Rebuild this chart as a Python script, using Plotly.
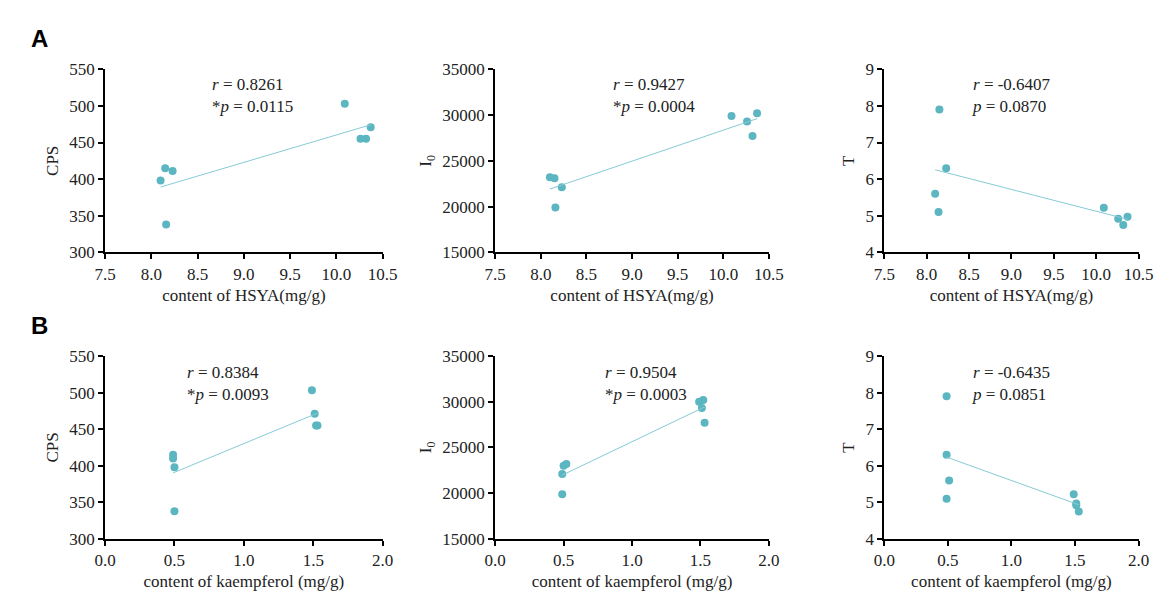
import numpy as np
import plotly.graph_objects as go

hsya = [8.10, 8.15, 8.23, 8.16, 10.09, 10.26, 10.32, 10.37]
cps_a = [398, 415, 411, 338, 503, 455, 455, 471]
i0_a = [23200, 23100, 22100, 19900, 29900, 29300, 27700, 30200]
t_hsya = [8.10, 8.15, 8.23, 8.14, 10.09, 10.26, 10.32, 10.37]
t_a = [5.6, 7.9, 6.3, 5.1, 5.22, 4.92, 4.75, 4.97]

kae = [0.49, 0.49, 0.50, 0.50, 1.49, 1.51, 1.52, 1.53]
cps_b = [415, 410, 398, 338, 503, 471, 455, 455]
kae_i0 = [0.50, 0.52, 0.49, 0.49, 1.49, 1.52, 1.51, 1.53]
i0_b = [23000, 23200, 22100, 19900, 30000, 30200, 29300, 27700]
kae_t = [0.49, 0.49, 0.51, 0.49, 1.49, 1.51, 1.51, 1.53]
t_b = [7.9, 6.3, 5.6, 5.1, 5.22, 4.97, 4.92, 4.75]

stats = [("0.8261", "*", "0.0115"), ("0.9427", "*", "0.0004"), ("-0.6407", "", "0.0870"),
         ("0.8384", "*", "0.0093"), ("0.9504", "*", "0.0003"), ("-0.6435", "", "0.0851")]

panels = [
    (hsya, cps_a, "CPS", [300, 550], 50, [7.5, 10.5], "content of HSYA(mg/g)"),
    (hsya, i0_a, "I<sub>0</sub>", [15000, 35000], 5000, [7.5, 10.5], "content of HSYA(mg/g)"),
    (t_hsya, t_a, "T", [4, 9], 1, [7.5, 10.5], "content of HSYA(mg/g)"),
    (kae, cps_b, "CPS", [300, 550], 50, [0, 2], "content of kaempferol (mg/g)"),
    (kae_i0, i0_b, "I<sub>0</sub>", [15000, 35000], 5000, [0, 2], "content of kaempferol (mg/g)"),
    (kae_t, t_b, "T", [4, 9], 1, [0, 2], "content of kaempferol (mg/g)"),
]
W, H = 1169, 602
xd = [(88, 372), (487, 767), (885, 1145)]
yd = [(54, 243), (350, 539)]
ann_pos = [(195, 58), (605, 58), (973, 58), (170, 355), (597, 355), (973, 355)]

fig = go.Figure()
font = dict(family="'Liberation Serif', 'Times New Roman', 'DejaVu Serif', serif", size=17, color="#222")
annotations = []
for i, (x, y, yl, yr, dt, xr, xl) in enumerate(panels):
    r, c = divmod(i, 3)
    n = "" if i == 0 else str(i + 1)
    fig.add_trace(go.Scatter(x=x, y=y, mode="markers", marker=dict(color="#5cb6c1", size=8),
                             xaxis="x" + n, yaxis="y" + n, showlegend=False))
    k, b = np.polyfit(x, y, 1)
    xs = np.array([min(x), max(x)])
    fig.add_trace(go.Scatter(x=xs, y=k * xs + b, mode="lines", line=dict(color="#86cad6", width=1),
                             xaxis="x" + n, yaxis="y" + n, showlegend=False))
    ax = dict(showline=True, linecolor="black", linewidth=2, ticks="outside", tickcolor="black",
              ticklen=5, tickwidth=2, showgrid=False, zeroline=False, tickfont=font)
    fig.update_layout(**{
        "xaxis" + n: dict(ax, domain=[xd[c][0] / W, xd[c][1] / W], range=xr, dtick=0.5,
                          tickformat=".1f", anchor="y" + n,
                          title=dict(text=xl, font=font, standoff=6)),
        "yaxis" + n: dict(ax, domain=[1 - yd[r][1] / H, 1 - yd[r][0] / H], range=yr, dtick=dt,
                          tickformat="d", anchor="x" + n, title=dict(text=yl, font=font, standoff=6)),
    })
    rr, star, p = stats[i]
    ax_, ay_ = ann_pos[i]
    annotations.append(dict(x=ax_ / W, y=1 - ay_ / H, xref="paper", yref="paper",
                            xanchor="left", yanchor="top", align="left", showarrow=False,
                            text=f"<i>r</i> = {rr}<br>{star}<i>p</i> = {p}", font=font))
annotations.append(dict(x=10 / W, y=1 - 6 / H, xref="paper", yref="paper", xanchor="left",
                        yanchor="top", showarrow=False, text="<b>A</b>",
                        font=dict(family="Liberation Sans", size=24, color="black")))
annotations.append(dict(x=10 / W, y=1 - 303 / H, xref="paper", yref="paper", xanchor="left",
                        yanchor="top", showarrow=False, text="<b>B</b>",
                        font=dict(family="Liberation Sans", size=24, color="black")))
fig.update_layout(width=W, height=H, margin=dict(l=0, r=0, t=0, b=0), font=font,
                  plot_bgcolor="white", paper_bgcolor="white", annotations=annotations)
fig.write_html("out.html")
